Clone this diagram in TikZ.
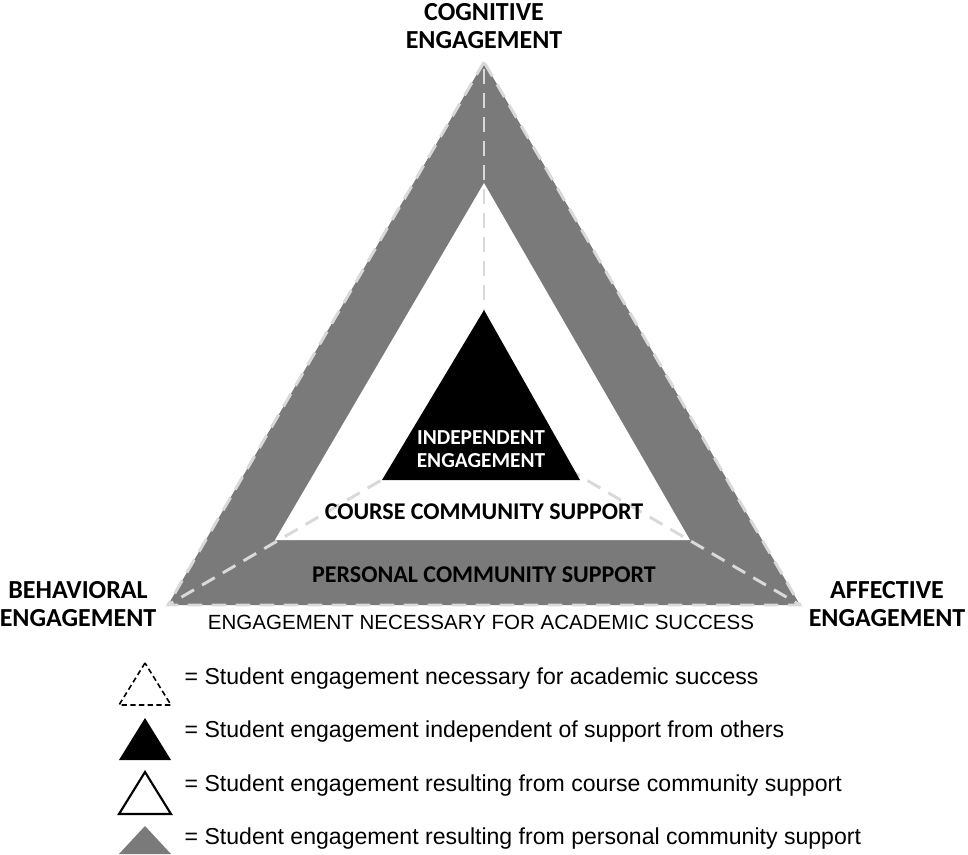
\documentclass[tikz,border=0pt]{standalone}
\usepackage{fontspec}
\setmainfont{Liberation Sans}
\newfontfamily\lab{Carlito}
\definecolor{band}{gray}{0.48}
\begin{document}
\begin{tikzpicture}[x=0.75pt,y=-0.75pt,
  biglab/.style={font=\lab\bfseries\fontsize{19.5}{21}\selectfont,align=center},
  inlab/.style={font=\lab\bfseries\fontsize{18}{18}\selectfont,align=center},
  leg/.style={font=\fontsize{17.3}{20}\selectfont,anchor=west},
  guide/.style={draw=gray!30,line width=2.2pt,dash pattern=on 11pt off 7pt}]
\useasboundingbox (0,0) rectangle (968,854);
\coordinate (A) at (484,62); \coordinate (B) at (168,605); \coordinate (C) at (800,605);
\coordinate (O) at (484,420);
\fill[band] (A)--(B)--(C)--cycle;
\fill[white] (484,183)--(275,540)--(690,540)--cycle;
\draw[guide] (O)--(A); \draw[guide] (O)--(B); \draw[guide] (O)--(C);
\draw[guide] (A)--(B)--(C)--cycle;
\fill[black] (484,310)--(382,480)--(580,480)--cycle;
\node[inlab,font=\lab\bfseries\fontsize{16}{17}\selectfont,text=white] (ie) at (481,449) {INDEPENDENT\\ENGAGEMENT};
\node[inlab] (cc) at (484,512) {COURSE COMMUNITY SUPPORT};
\node[inlab] (pc) at (484,575) {PERSONAL COMMUNITY SUPPORT};
\node[font=\fontsize{15.4}{17}\selectfont] (en) at (481,622) {ENGAGEMENT NECESSARY FOR ACADEMIC SUCCESS};
\node[biglab] (cog) at (484,26) {COGNITIVE\\ENGAGEMENT};
\node[biglab] (beh) at (78,604) {BEHAVIORAL\\ENGAGEMENT};
\node[biglab] (aff) at (887,604) {AFFECTIVE\\ENGAGEMENT};
\draw[line width=1.2pt,dash pattern=on 4pt off 2.5pt] (145,663)--(119,705)--(171,705)--cycle;
\fill[black] (145,718)--(119,760)--(171,760)--cycle;
\draw[line width=1.6pt] (145,772)--(119,814)--(171,814)--cycle;
\fill[band] (145,826)--(119,854)--(171,854)--cycle;
\node[leg] (l1) at (180,679) {= Student engagement necessary for academic success};
\node[leg] (l2) at (180,732) {= Student engagement independent of support from others};
\node[leg] (l3) at (180,786) {= Student engagement resulting from course community support};
\node[leg] (l4) at (180,839) {= Student engagement resulting from personal community support};
\end{tikzpicture}
\end{document}
